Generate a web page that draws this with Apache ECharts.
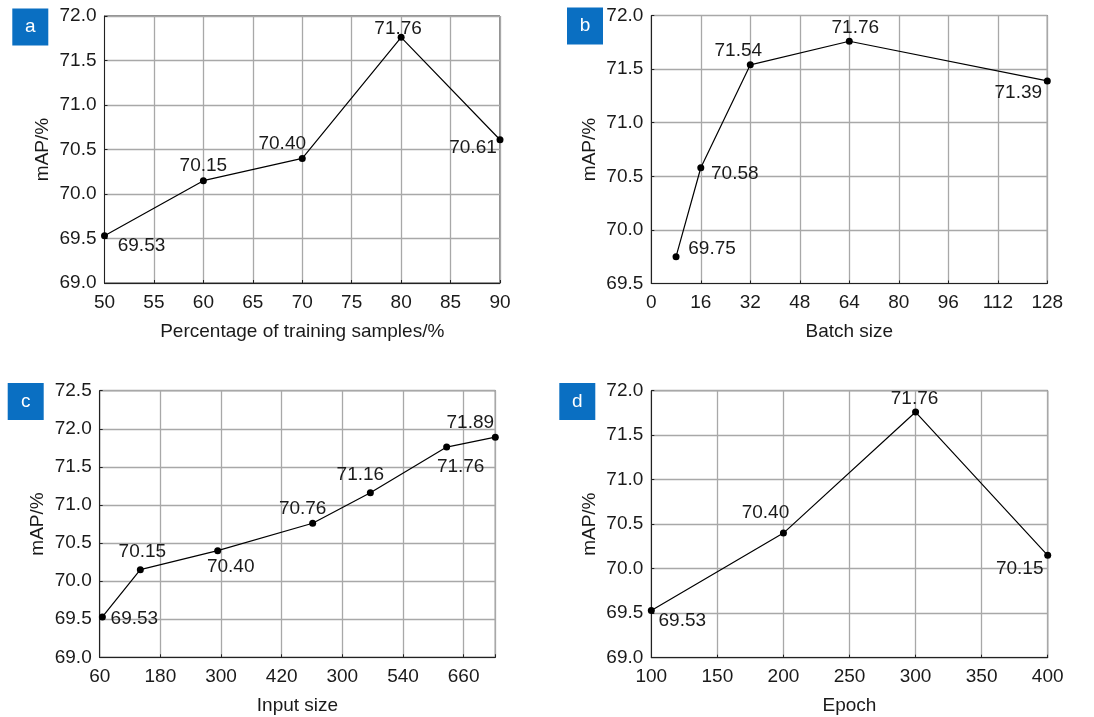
<!DOCTYPE html>
<html>
<head>
<meta charset="utf-8">
<script src="https://cdn.jsdelivr.net/npm/echarts@6/dist/echarts.min.js"></script>
<style>
html,body{margin:0;padding:0;background:#fff;}
#chart{width:1094px;height:717px;}
</style>
</head>
<body>
<div id="chart"></div>
<script>
// ---- data ----
var aX = [50, 60, 70, 80, 90];
var aY = [69.53, 70.15, 70.40, 71.76, 70.61];
var bX = [8, 16, 32, 64, 128];
var bY = [69.75, 70.58, 71.54, 71.76, 71.39];
var cX = [0.044, 0.670, 1.945, 3.511, 4.462, 5.720, 6.522]; // positions in tick units
var cY = [69.53, 70.15, 70.40, 70.76, 71.16, 71.76, 71.89];
var cTickLabels = ['60', '180', '300', '420', '300', '540', '660'];
var dX = [100, 200, 300, 400];
var dY = [69.53, 70.40, 71.76, 70.15];
var panelLetters = ['a', 'b', 'c', 'd'];
var xNames = ['Percentage of training samples/%', 'Batch size', 'Input size', 'Epoch'];
var yName = 'mAP/%';

// ---- layout / style (not data) ----
var FONT = 'Liberation Sans, Arial, sans-serif';
var FS = 19;
var TXT = '#1a1a1a';
var grids = [
  {left: 104.5, top: 16, width: 395.5, height: 267},
  {left: 651.3, top: 15.5, width: 396, height: 268},
  {left: 99.7, top: 390.7, width: 395.6, height: 266.6},
  {left: 651.3, top: 390.7, width: 396.4, height: 267}
];
var labelOffsets = [
  [[37,10],[0,-15],[-20,-15],[-3,-9],[-27,8]],
  [[36,-8],[34,6],[-12,-14],[6,-13],[-29,12]],
  [[32,2],[2,-18],[13,16],[-10,-14],[-10,-18],[14,20],[-25,-14]],
  [[31,10],[-18,-20],[-1,-13],[-28,13]]
];
var xCfg = [
  {min: 50, max: 90, interval: 5},
  {min: 0, max: 128, interval: 16},
  {min: 0, max: 6.522, interval: 1},
  {min: 100, max: 400, interval: 50}
];
var yCfg = [
  {min: 69, max: 72, interval: 0.5},
  {min: 69.5, max: 72, interval: 0.5},
  {min: 69, max: 72.5, interval: 0.5},
  {min: 69, max: 72, interval: 0.5}
];
var boxes = [
  {x: 12.3, y: 8.5}, {x: 567, y: 7.5}, {x: 7.7, y: 383}, {x: 559.3, y: 383}
];

var xs = [aX, bX, cX, dX];
var ys = [aY, bY, cY, dY];

var option = {
  backgroundColor: '#fff',
  animation: false,
  grid: grids.map(function (g) {
    return {left: g.left, top: g.top, width: g.width, height: g.height,
      show: true, borderColor: '#222', borderWidth: 1, containLabel: false};
  }),
  xAxis: xCfg.map(function (c, i) {
    return {
      type: 'value', gridIndex: i, min: c.min, max: c.max, interval: c.interval,
      name: xNames[i], nameLocation: 'middle', nameGap: 39,
      nameTextStyle: {fontFamily: FONT, fontSize: FS, color: TXT},
      axisLine: {show: true, onZero: false, lineStyle: {color: '#222', width: 1}},
      axisTick: {show: true, inside: true, length: 3, lineStyle: {color: '#222'}},
      axisLabel: {
        fontFamily: FONT, fontSize: FS, color: TXT, margin: 10,
        showMaxLabel: true, showMinLabel: true,
        formatter: function (v) {
          if (i === 2) {
            var k = Math.round(v);
            if (Math.abs(v - k) > 1e-6) return '';
            return cTickLabels[k] !== undefined ? cTickLabels[k] : '';
          }
          return String(v);
        }
      },
      splitLine: {show: true, lineStyle: {color: '#a8a8a8', width: 1.3}}
    };
  }),
  yAxis: yCfg.map(function (c, i) {
    return {
      type: 'value', gridIndex: i, min: c.min, max: c.max, interval: c.interval,
      name: yName, nameLocation: 'middle', nameGap: 52,
      nameTextStyle: {fontFamily: FONT, fontSize: FS, color: TXT},
      axisLine: {show: true, lineStyle: {color: '#222', width: 1}},
      axisTick: {show: true, inside: true, length: 3, lineStyle: {color: '#222'}},
      axisLabel: {
        fontFamily: FONT, fontSize: FS, color: TXT, margin: 8,
        formatter: function (v) { return v.toFixed(1); }
      },
      splitLine: {show: true, lineStyle: {color: '#a8a8a8', width: 1.3}}
    };
  }),
  series: xs.map(function (xArr, i) {
    return {
      type: 'line', xAxisIndex: i, yAxisIndex: i,
      data: xArr.map(function (x, j) {
        return {
          value: [x, ys[i][j]],
          label: {offset: labelOffsets[i][j]}
        };
      }),
      symbol: 'circle', symbolSize: 7,
      lineStyle: {color: '#000', width: 1.2},
      itemStyle: {color: '#000'},
      label: {
        show: true, position: 'inside', align: 'center', verticalAlign: 'middle',
        fontFamily: FONT, fontSize: FS, color: TXT,
        formatter: function (p) { return p.value[1].toFixed(2); }
      },
      z: 3
    };
  }),
  graphic: boxes.map(function (b, i) {
    return {
      type: 'group', left: b.x, top: b.y,
      children: [
        {type: 'rect', shape: {x: 0, y: 0, width: 36, height: 37}, style: {fill: '#0a6fc2'}},
        {type: 'text', x: 18, y: 18.5, style: {text: panelLetters[i], fill: '#fff',
          font: FS + 'px ' + FONT, textAlign: 'center', textVerticalAlign: 'middle'}}
      ]
    };
  })
};

var chart = echarts.init(document.getElementById('chart'), null, {renderer: 'canvas'});
chart.setOption(option);
</script>
</body>
</html>
